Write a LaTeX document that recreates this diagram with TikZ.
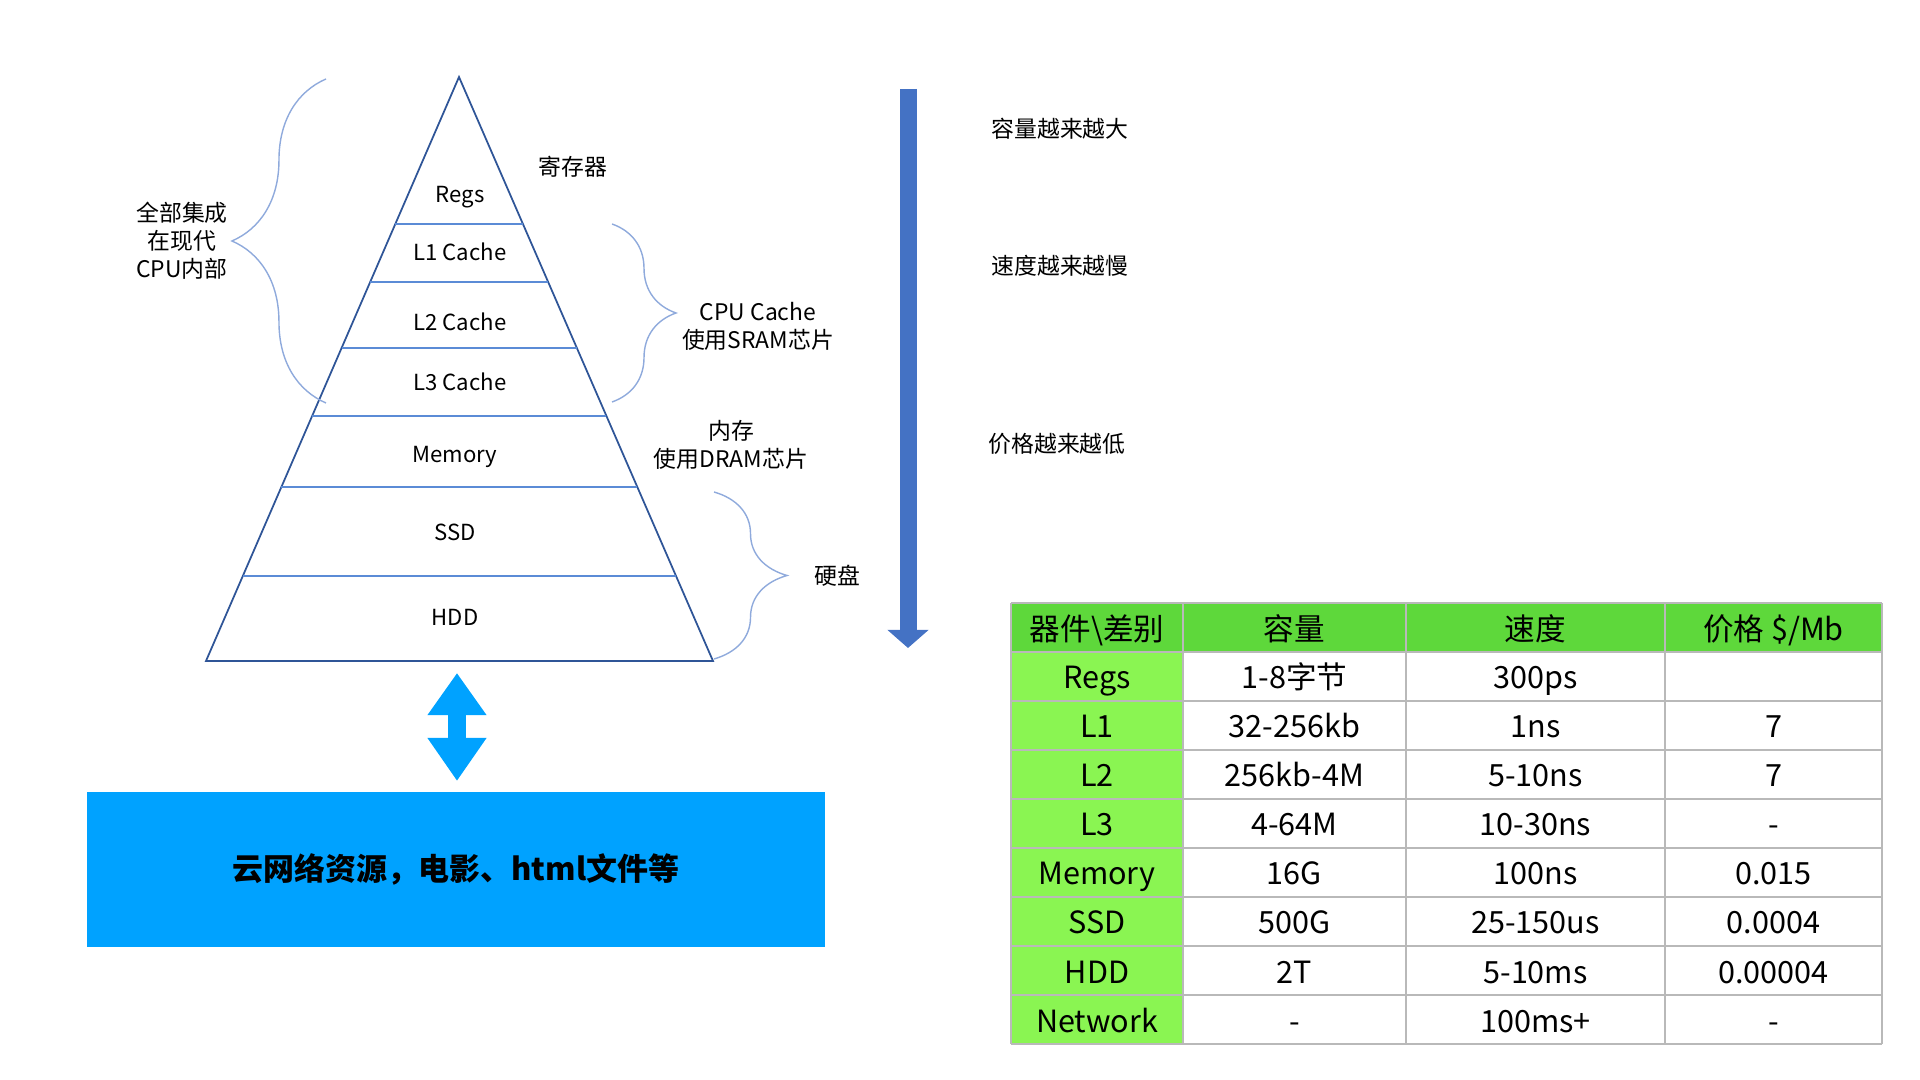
\documentclass[tikz,border=0pt]{standalone}
\usepackage{fontspec}
\setmainfont{Noto Sans CJK SC}
\usetikzlibrary{arrows.meta,positioning,calc,decorations.pathreplacing}

\definecolor{pyrblue}{HTML}{2F5597}
\definecolor{sepblue}{HTML}{5B8BD6}
\definecolor{braceblue}{HTML}{8FAADC}
\definecolor{trendblue}{HTML}{4472C4}
\definecolor{netblue}{HTML}{00A2FF}
\definecolor{headgreen}{HTML}{5ED83B}
\definecolor{colgreen}{HTML}{8AF552}

\newcommand{\pyrfont}{\fontsize{6.3pt}{7.5pt}\selectfont}
\newcommand{\notefont}{\fontsize{6.5pt}{7.9pt}\selectfont}
\newcommand{\tabfont}{\fontsize{8.7pt}{10pt}\selectfont}

\begin{document}
\begin{tikzpicture}[
  x=0.01cm, y=-0.01cm,
  tierlabel/.style={font=\pyrfont, inner sep=0pt, text height=0.15cm, text depth=0pt},
  note/.style={font=\notefont, align=center, inner sep=0pt},
  pyredge/.style={pyrblue, line width=0.5pt},
  sepline/.style={sepblue, line width=0.45pt},
  curly/.style={braceblue, line width=0.4pt, decorate},
  trendarrow/.style={trendblue, line width=0.17cm, -{Triangle[length=0.18cm,width=0.40cm]}},
  dblarrow/.style={netblue, line width=0.17cm, {Triangle[length=0.42cm,width=0.56cm]}-{Triangle[length=0.43cm,width=0.56cm]}},
  cloudbox/.style={fill=netblue, minimum width=7.38cm, minimum height=1.55cm, inner sep=0pt, font=\fontsize{8.8pt}{11pt}\selectfont\bfseries},
  cell/.style={font=\tabfont, inner sep=0pt, text height=0.21cm, text depth=0pt},
  gridline/.style={gray!55, line width=0.5pt}
]
  \useasboundingbox (0,0) rectangle (1920,1080);

  % pyramid
  \coordinate (apex) at (459,77);
  \coordinate (bl) at (206,661);
  \coordinate (br) at (713,661);
  \draw[pyredge] (apex) -- (bl) -- (br) -- cycle;
  \foreach \yy in {224,282,348,416,487,576} {
    \pgfmathsetmacro\t{(\yy-77)/584}
    \draw[sepline] ($(apex)!\t!(bl)$) -- ($(apex)!\t!(br)$);
  }
  \node[tierlabel] (regs) at (460,195) {Regs};
  \node[tierlabel] (lone) at (460,253) {L1 Cache};
  \node[tierlabel] (ltwo) at (460,323) {L2 Cache};
  \node[tierlabel] (lthree) at (460,383) {L3 Cache};
  \node[tierlabel] (mem) at (455,455) {Memory};
  \node[tierlabel] (ssd) at (455,533) {SSD};
  \node[tierlabel] (hdd) at (455,618) {HDD};

  % braces and notes
  \draw[curly, decoration={brace, amplitude=0.94cm}] (326,403) -- (326,79);
  \node[note] (cpuin) at (182,241) {全部集成\\在现代\\CPU内部};
  \node[note] (reg) at (573,167) {寄存器};
  \draw[curly, decoration={brace, amplitude=0.64cm}] (612,224) -- (612,402);
  \node[note] (sram) at (758,326) {CPU Cache\\使用SRAM芯片};
  \node[note] (dram) at (731,445) {内存\\使用DRAM芯片};
  \draw[curly, decoration={brace, amplitude=0.73cm}] (714,492) -- (714,659);
  \node[note] (disk) at (837,576) {硬盘};

  % trend arrow
  \coordinate (trendtop) at (908,89);
  \coordinate (trendbot) at (908,648);
  \draw[trendarrow] (trendtop) -- (trendbot);
  \node[note] (bigger) at (1060,129) {容量越来越大};
  \node[note] (slower) at (1060,266) {速度越来越慢};
  \node[note] (cheaper) at (1057,444) {价格越来越低};

  % network
  \node[cloudbox] (cloud) at (456,869.5) {云网络资源，电影、html文件等};
  \coordinate (dtop) at (457,673);
  \coordinate (dbot) at (457,781);
  \draw[dblarrow] (dtop) -- (dbot);

  % table
  \fill[headgreen] (1011,603) rectangle (1882,652);
  \fill[colgreen] (1011,652) rectangle (1183,1044);
  \foreach \yy in {603,652,...,1044}
    \draw[gridline] (1011,\yy) -- (1882,\yy);
  \foreach \xx in {1011,1183,1406,1665,1882}
    \draw[gridline] (\xx,603) -- (\xx,1044);
  \node[cell] (hdev) at (1097,630.5) {器件\textbackslash{}差别};
  \node[cell] (hsize) at (1294.5,630.5) {容量};
  \node[cell] (hspd) at (1535.5,630.5) {速度};
  \node[cell] (hcost) at (1773.5,630.5) {价格 \$/Mb};
  \foreach \dev/\size/\spd/\cost [count=\i] in {Regs/1-8字节/300ps/{}, L1/32-256kb/1ns/7, L2/256kb-4M/5-10ns/7, L3/4-64M/10-30ns/-, Memory/16G/100ns/0.015, SSD/500G/25-150us/0.0004, HDD/2T/5-10ms/0.00004, Network/-/100ms+/-} {
    \pgfmathsetmacro\yc{629.5+49*\i}
    \node[cell] (dev\i) at (1097,\yc) {\dev};
    \node[cell] (size\i) at (1294.5,\yc) {\size};
    \node[cell] (spd\i) at (1535.5,\yc) {\spd};
    \node[cell] (cost\i) at (1773.5,\yc) {\cost};
  }
\end{tikzpicture}
\end{document}
